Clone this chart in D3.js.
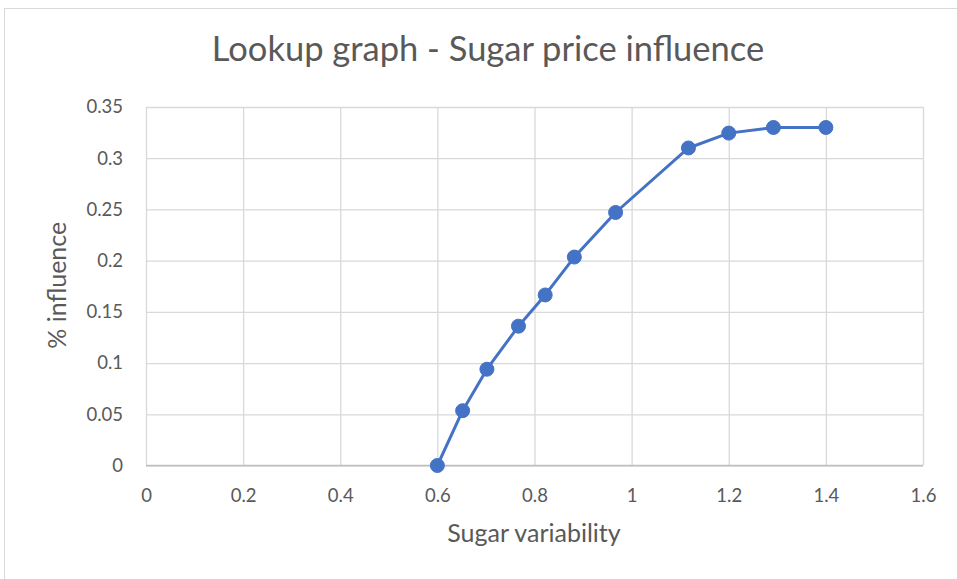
<!DOCTYPE html>
<html>
<head>
<meta charset="utf-8">
<script src="https://cdn.jsdelivr.net/npm/d3@7"></script>
<style>
  html, body { margin: 0; padding: 0; background: #fff; }
  svg { display: block; }
  text { font-family: Lato, "Open Sans", sans-serif; fill: #595959; }
</style>
</head>
<body>
<svg id="chart" width="957" height="579"></svg>
<script>
// Lookup table: sugar variability -> % influence
const variability = [0.60, 0.652, 0.702, 0.767, 0.822, 0.882, 0.967, 1.117, 1.20, 1.292, 1.40];
const influence   = [0.000, 0.0535, 0.094, 0.136, 0.1665, 0.2035, 0.247, 0.310, 0.3245, 0.330, 0.330];
const xTicks = [0, 0.2, 0.4, 0.6, 0.8, 1, 1.2, 1.4, 1.6];
const yTicks = [0, 0.05, 0.1, 0.15, 0.2, 0.25, 0.3, 0.35];

const title = "Lookup graph - Sugar price influence";
const xTitle = "Sugar variability";
const yTitle = "% influence";

const svg = d3.select("#chart");
const W = 957, H = 579;
const plot = { left: 146, right: 923, top: 107, bottom: 465.5 };
const font = "Lato, 'Open Sans', sans-serif";

// chart-area frame
svg.append("rect")
  .attr("x", 4.5).attr("y", 8.5)
  .attr("width", W + 10).attr("height", H + 10)
  .attr("fill", "#fff").attr("stroke", "#d9d9d9").attr("stroke-width", 1);

const x = d3.scaleLinear().domain([0, 1.6]).range([plot.left, plot.right]);
const y = d3.scaleLinear().domain([0, 0.35]).range([plot.bottom, plot.top]);

// vertical gridlines
svg.append("g")
  .attr("transform", `translate(0,${plot.bottom})`)
  .call(d3.axisBottom(x).tickValues(xTicks).tickSize(-(plot.bottom - plot.top)).tickFormat(""))
  .call(g => g.select(".domain").remove())
  .call(g => g.selectAll("line").attr("stroke", "#d9d9d9").attr("stroke-width", 1.3));

// horizontal gridlines
svg.append("g")
  .attr("transform", `translate(${plot.left},0)`)
  .call(d3.axisLeft(y).tickValues(yTicks).tickSize(-(plot.right - plot.left)).tickFormat(""))
  .call(g => g.select(".domain").remove())
  .call(g => g.selectAll("line").attr("stroke", "#d9d9d9").attr("stroke-width", 1.3));

// horizontal axis line
svg.append("line")
  .attr("x1", plot.left).attr("x2", plot.right)
  .attr("y1", y(0)).attr("y2", y(0))
  .attr("stroke", "#bfbfbf").attr("stroke-width", 1.3);

// x tick labels
svg.append("g")
  .attr("transform", `translate(0,${plot.bottom})`)
  .call(d3.axisBottom(x).tickValues(xTicks).tickSize(0).tickPadding(23).tickFormat(d => String(d)))
  .call(g => g.select(".domain").remove())
  .call(g => g.selectAll("text").attr("font-size", 18.5).attr("fill", "#595959").style("font-family", font));

// y tick labels
svg.append("g")
  .attr("transform", `translate(${plot.left},0)`)
  .call(d3.axisLeft(y).tickValues(yTicks).tickSize(0).tickPadding(23).tickFormat(d => String(d)))
  .call(g => g.select(".domain").remove())
  .call(g => g.selectAll("text").attr("font-size", 18.5).attr("fill", "#595959").style("font-family", font));

// series line
const pts = variability.map((v, i) => [v, influence[i]]);
svg.append("path")
  .datum(pts)
  .attr("fill", "none")
  .attr("stroke", "#4472c4")
  .attr("stroke-width", 3)
  .attr("stroke-linejoin", "round")
  .attr("d", d3.line().x(d => x(d[0])).y(d => y(d[1])));

// markers
svg.append("g").selectAll("circle")
  .data(pts).join("circle")
  .attr("cx", d => x(d[0])).attr("cy", d => y(d[1]))
  .attr("r", 7)
  .attr("fill", "#4472c4").attr("stroke", "#4472c4").attr("stroke-width", 1);

// titles
svg.append("text")
  .attr("x", 488).attr("y", 61)
  .attr("text-anchor", "middle")
  .attr("font-size", 34.5)
  .text(title);

svg.append("text")
  .attr("x", 534).attr("y", 542)
  .attr("text-anchor", "middle")
  .attr("font-size", 25)
  .text(xTitle);

svg.append("text")
  .attr("transform", `translate(66,${(plot.top + plot.bottom) / 2 - 1}) rotate(-90)`)
  .attr("text-anchor", "middle")
  .attr("font-size", 25)
  .text(yTitle);
</script>
</body>
</html>
